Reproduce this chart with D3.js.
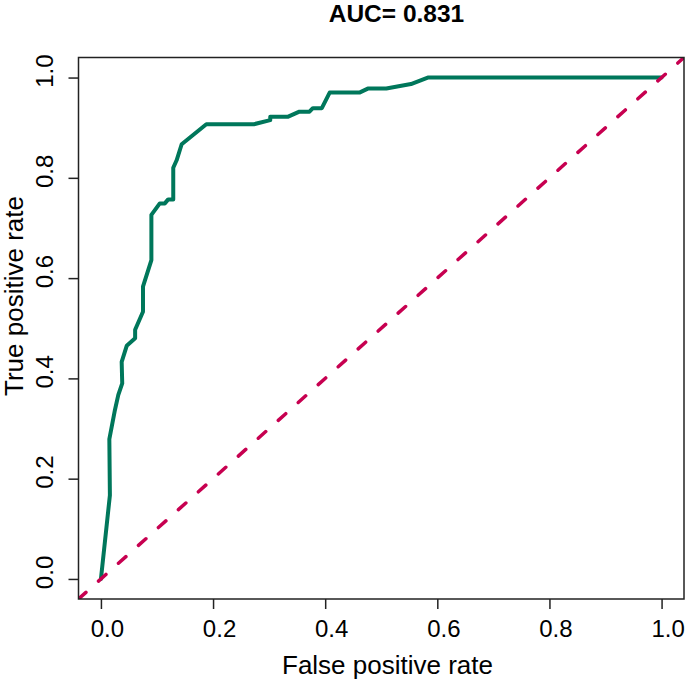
<!DOCTYPE html>
<html>
<head>
<meta charset="utf-8">
<script src="https://cdn.jsdelivr.net/npm/d3@7/dist/d3.min.js"></script>
<style>
  html, body { margin: 0; padding: 0; background: #fff; }
  svg text { font-family: "Liberation Sans", Arial, Helvetica, sans-serif; fill: #000; }
</style>
</head>
<body>
<svg id="chart" width="685" height="680"></svg>
<script>
// ROC curve points
const fpr = [0, 0.016, 0.015, 0.025, 0.031, 0.038, 0.037, 0.046, 0.061, 0.061, 0.075, 0.075,
  0.09, 0.09, 0.105, 0.114, 0.12, 0.129, 0.129, 0.135, 0.144, 0.188, 0.273, 0.302, 0.302,
  0.334, 0.354, 0.372, 0.378, 0.394, 0.408, 0.461, 0.476, 0.509, 0.553, 0.583, 1.0];
const tpr = [0, 0.167, 0.279, 0.337, 0.367, 0.39, 0.433, 0.465, 0.48, 0.497, 0.533, 0.583,
  0.636, 0.726, 0.749, 0.749, 0.757, 0.757, 0.82, 0.835, 0.867, 0.907, 0.907, 0.915, 0.922,
  0.922, 0.932, 0.932, 0.939, 0.939, 0.970, 0.970, 0.978, 0.978, 0.987, 1.0, 1.0];
const diagonal = [-0.04, 1.04];
const xTicks = [0, 0.2, 0.4, 0.6, 0.8, 1.0];
const yTicks = [0, 0.2, 0.4, 0.6, 0.8, 1.0];
const titleText = "AUC= 0.831";
const xLabel = "False positive rate";
const yLabel = "True positive rate";

const svg = d3.select("#chart");
const pLeft = 78.5, pRight = 684, pTop = 57.5, pBottom = 599;

const x = d3.scaleLinear().domain([-0.04, 1.04]).range([pLeft, pRight]);
const y = d3.scaleLinear().domain([-0.04, 1.04]).range([pBottom, pTop]);

svg.append("defs").append("clipPath").attr("id", "clip")
  .append("rect").attr("x", pLeft).attr("y", pTop)
  .attr("width", pRight - pLeft).attr("height", pBottom - pTop);

const pts = fpr.map((d, i) => [d, tpr[i]]);
const line = d3.line().x(d => x(d[0])).y(d => y(d[1]));

const plot = svg.append("g").attr("clip-path", "url(#clip)");

plot.append("path")
  .datum(pts)
  .attr("d", line)
  .attr("fill", "none")
  .attr("stroke", "#00775B")
  .attr("stroke-width", 4)
  .attr("stroke-linejoin", "round")
  .attr("stroke-linecap", "round");

plot.append("path")
  .datum(diagonal.map(v => [v, v]))
  .attr("d", line)
  .attr("fill", "none")
  .attr("stroke", "#C70050")
  .attr("stroke-width", 3.5)
  .attr("stroke-linecap", "round")
  .attr("stroke-dasharray", "10 16.8");

// Box
svg.append("rect")
  .attr("x", pLeft).attr("y", pTop)
  .attr("width", pRight - pLeft).attr("height", pBottom - pTop)
  .attr("fill", "none").attr("stroke", "#222").attr("stroke-width", 1.5);

// X axis
const xAxis = d3.axisBottom(x).tickValues(xTicks).tickFormat(d3.format(".1f"))
  .tickSize(10).tickSizeOuter(0);
const gx = svg.append("g").attr("transform", `translate(0,${pBottom})`).call(xAxis);
gx.select(".domain").remove();
gx.selectAll(".tick line").attr("stroke", "#222").attr("stroke-width", 1.5);
gx.selectAll(".tick text")
  .attr("font-size", 24)
  .attr("fill", "#000")
  .attr("dy", null)
  .attr("y", 38)
  .attr("dx", 6);

// Y axis
const yAxis = d3.axisLeft(y).tickValues(yTicks).tickFormat(d3.format(".1f"))
  .tickSize(10).tickSizeOuter(0);
const gy = svg.append("g").attr("transform", `translate(${pLeft},0)`).call(yAxis);
gy.select(".domain").remove();
gy.selectAll(".tick line").attr("stroke", "#222").attr("stroke-width", 1.5);
gy.selectAll(".tick text")
  .attr("font-size", 24)
  .attr("fill", "#000")
  .attr("x", null).attr("dy", null)
  .attr("text-anchor", "middle")
  .attr("transform", "translate(-25.5,-7) rotate(-90)");

// Title and labels
svg.append("text")
  .attr("x", 396.5).attr("y", 22)
  .attr("text-anchor", "middle")
  .attr("font-size", 24.5)
  .attr("font-weight", "bold")
  .text(titleText);

svg.append("text")
  .attr("x", 387.5).attr("y", 674)
  .attr("text-anchor", "middle")
  .attr("font-size", 26)
  .text(xLabel);

svg.append("text")
  .attr("transform", "translate(22.5,296) rotate(-90)")
  .attr("text-anchor", "middle")
  .attr("font-size", 26)
  .text(yLabel);
</script>
</body>
</html>
